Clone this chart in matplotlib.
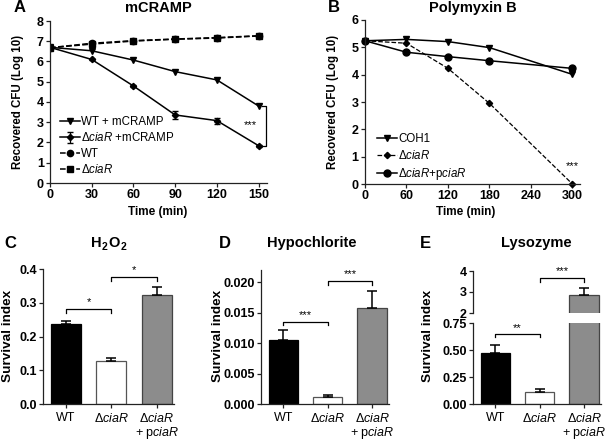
import numpy as np
import matplotlib.pyplot as plt

plt.rcParams['font.family'] = ['Liberation Sans', 'DejaVu Sans']
plt.rcParams['mathtext.fontset'] = 'custom'
plt.rcParams['mathtext.rm'] = 'Liberation Sans'
plt.rcParams['mathtext.it'] = 'Liberation Sans:italic'
plt.rcParams['mathtext.bf'] = 'Liberation Sans:bold'

# --- panel A: mCRAMP killing curves
a_time = [0, 30, 60, 90, 120, 150]
a_wt_mcramp = [6.7, 6.53, 6.07, 5.5, 5.09, 3.8]
a_cia_mcramp = [6.7, 6.1, 4.79, 3.36, 3.08, 1.84]
a_cia_mcramp_err = [0.03, 0.03, 0.05, 0.2, 0.15, 0.04]
a_wt = [6.68, 6.9, 7.03, 7.11, 7.18, 7.27]
a_cia = [6.68, 6.86, 7.01, 7.1, 7.16, 7.26]

# --- panel B: polymyxin B killing curves
b_time = [0, 60, 120, 180, 300]
b_coh1 = [5.24, 5.29, 5.21, 4.99, 4.01]
b_cia = [5.24, 5.15, 4.23, 2.95, 0.0]
b_comp = [5.24, 4.82, 4.66, 4.51, 4.23]

# --- panels C-E: survival index bars
strains = ['WT', 'Δ$\\mathit{ciaR}$', 'Δ$\\mathit{ciaR}$\n+ p$\\mathit{ciaR}$']
bar_colors = ['black', 'white', '#8c8c8c']
bar_edges = ['black', '#555555', '#444444']

h2o2 = [0.237, 0.1265, 0.322]
h2o2_err = [0.010, 0.011, 0.026]
hypo = [0.0105, 0.0011, 0.0157]
hypo_err = [0.0016, 0.0004, 0.0029]
lyso = [0.473, 0.113, 2.84]
lyso_err = [0.071, 0.023, 0.33]

TICK = 9
fig = plt.figure(figsize=(6.08, 4.40), dpi=100)


def px_axes(l, t, r, b):
    return fig.add_axes([l / 608, 1 - b / 440, (r - l) / 608, (b - t) / 440])


def style(ax, xbold=True):
    for s in ['top', 'right']:
        ax.spines[s].set_visible(False)
    for s in ['left', 'bottom']:
        ax.spines[s].set_linewidth(0.9)
        ax.spines[s].set_color('#222222')
    ax.tick_params(direction='out', length=3, width=0.9, labelsize=TICK, pad=1.5,
                   color='#222222')
    for lab in ax.get_yticklabels():
        lab.set_fontweight('bold')
    if xbold:
        for lab in ax.get_xticklabels():
            lab.set_fontweight('bold')


# ---------------- A
axA = px_axes(50, 21, 267, 183)
h1 = axA.errorbar(a_time, a_wt_mcramp, fmt='-v', color='k', ms=5, lw=1.1,
                  label='WT + mCRAMP')
h2 = axA.errorbar(a_time, a_cia_mcramp, yerr=a_cia_mcramp_err, fmt='-D',
                  color='k', ms=3.2, lw=1.1, capsize=2.5, elinewidth=0.9,
                  label='Δ$\\mathit{ciaR}$ +mCRAMP')
h3, = axA.plot(a_time, a_wt, '--o', color='k', ms=4.5, lw=1.1, label='WT')
h4, = axA.plot(a_time, a_cia, '--s', color='k', ms=5, lw=1.1,
               label='Δ$\\mathit{ciaR}$')
axA.set_xlim(0, 156)
axA.set_ylim(0, 8)
axA.set_xticks(a_time)
axA.set_yticks(range(0, 9))
style(axA)
axA.legend(handles=[h1, h2, h3, h4], loc='center left',
           bbox_to_anchor=(0.046, 0.227), frameon=False,
           fontsize=8.3, handlelength=1.7, handletextpad=0.15, borderpad=0,
           borderaxespad=0, labelspacing=0.3)
axA.plot([152.5, 155.5, 155.5, 152.5], [a_wt_mcramp[-1], a_wt_mcramp[-1],
         a_cia_mcramp[-1], a_cia_mcramp[-1]], color='k', lw=0.9, clip_on=False)
axA.text(144, 2.85, '***', ha='center', va='center', fontsize=8)

# ---------------- B
axB = px_axes(365, 20, 580, 184)
axB.plot(b_time, b_coh1, '-v', color='k', ms=5, lw=1.1, label='COH1')
axB.plot(b_time, b_cia, '--D', color='k', ms=3.2, lw=0.9,
         label='Δ$\\mathit{ciaR}$')
axB.plot(b_time, b_comp, '-o', color='k', ms=5, lw=1.1,
         label='Δ$\\mathit{ciaR}$+p$\\mathit{ciaR}$')
axB.set_xlim(0, 311)
axB.set_ylim(0, 6)
axB.set_xticks([0, 60, 120, 180, 240, 300])
axB.set_yticks(range(0, 7))
style(axB)
axB.legend(loc='center left', bbox_to_anchor=(0.056, 0.16), frameon=False,
           fontsize=8.3, handlelength=1.7, handletextpad=0.15, borderpad=0,
           borderaxespad=0, labelspacing=0.35)
axB.text(300, 0.66, '***', ha='center', va='center', fontsize=8)
for ln in axB.lines:
    ln.set_clip_on(False)

# ---------------- bar panels
xpos = np.arange(3)


def bars(ax, vals, errs):
    ax.bar(xpos, vals, width=0.66, color=bar_colors, edgecolor=bar_edges,
           linewidth=0.9)
    ax.errorbar(xpos, vals, yerr=[np.zeros(3), errs], fmt='none', ecolor='k',
                elinewidth=1.1, capsize=3.5, capthick=1.1)
    ax.set_xlim(-0.5, 2.38)
    ax.set_xticks(xpos)
    ax.set_xticklabels(strains, fontsize=9, linespacing=1.0)


def bracket(ax, x0, x1, y, drop, stars):
    ax.plot([x0, x0, x1, x1], [y - drop, y, y, y - drop], color='k', lw=0.9,
            clip_on=False)
    ax.text((x0 + x1) / 2, y + drop * 0.5, stars, ha='center', va='bottom',
            fontsize=8)


# C
axC = px_axes(43, 269, 174, 404)
bars(axC, h2o2, h2o2_err)
axC.set_ylim(0, 0.4)
axC.set_yticks([0.0, 0.1, 0.2, 0.3, 0.4])
axC.set_yticklabels(['0.0', '0.1', '0.2', '0.3', '0.4'])
style(axC, xbold=False)
axC.tick_params(axis='x', pad=3)
bracket(axC, 0, 1, 0.281, 0.011, '*')
bracket(axC, 1, 2, 0.376, 0.011, '*')

# D
axD = px_axes(261, 270, 389, 404)
bars(axD, hypo, hypo_err)
axD.set_ylim(0, 0.022)
axD.set_yticks([0.0, 0.005, 0.010, 0.015, 0.020])
axD.set_yticklabels(['0.000', '0.005', '0.010', '0.015', '0.020'])
style(axD, xbold=False)
axD.tick_params(axis='x', pad=3)
bracket(axD, 0, 1, 0.0135, 0.0006, '***')
bracket(axD, 1, 2, 0.0202, 0.0006, '***')

# E (broken axis)
axE = px_axes(473, 323, 601, 404)
bars(axE, lyso, lyso_err)
axE.set_ylim(0, 0.75)
axE.set_yticks([0.0, 0.25, 0.5, 0.75])
axE.set_yticklabels(['0.00', '0.25', '0.50', '0.75'])
style(axE, xbold=False)
axE.tick_params(axis='x', pad=3)
bracket(axE, 0, 1, 0.646, 0.025, '**')

axE2 = px_axes(473, 271, 601, 313)
bars(axE2, lyso, lyso_err)
axE2.set_ylim(2, 4)
axE2.set_yticks([2, 3, 4])
axE2.set_xticks([])
style(axE2, xbold=False)
axE2.spines['bottom'].set_visible(False)
bracket(axE2, 1, 2, 3.67, 0.18, '***')

# ---------------- text
for lbl, x, y in [('A', 20, 8), ('B', 334, 8), ('C', 10, 243), ('D', 225, 243),
                  ('E', 425, 243)]:
    fig.text(x / 608, 1 - y / 440, lbl, fontsize=12, fontweight='bold',
             ha='center', va='center')
for ttl, x, y in [('mCRAMP', 158, 8), ('Polymyxin B', 473, 8),
                  ('Hypochlorite', 312, 243), ('Lysozyme', 536, 243)]:
    fig.text(x / 608, 1 - y / 440, ttl, fontsize=10.5, fontweight='bold',
             ha='center', va='center')

# H2O2 title: subscripts drawn as smaller, lowered text, advanced by real widths
renderer = fig.canvas.get_renderer()
h2o2_parts = [('H', 0), ('2', 1), ('O', 0), ('2', 1)]
xcur = 91.0
for part, sub in h2o2_parts:
    t = fig.text(xcur / 608, 1 - (243 + 3.5 * sub) / 440, part,
                 fontsize=7.5 if sub else 10.5, fontweight='bold',
                 ha='left', va='center')
    xcur += t.get_window_extent(renderer).width + 0.5

for x, y in [(18, 102), (333, 102)]:
    fig.text(x / 608, 1 - y / 440, 'Recovered CFU (Log 10)', fontsize=8.3,
             fontweight='bold', rotation=90, ha='center', va='center')
for x in [158, 466]:
    fig.text(x / 608, 1 - 212 / 440, 'Time (min)', fontsize=8.5,
             fontweight='bold', ha='center', va='center')
for x in [8, 218, 428]:
    fig.text(x / 608, 1 - 336 / 440, 'Survival index', fontsize=9.7,
             fontweight='bold', rotation=90, ha='center', va='center')

fig.savefig('out.png', dpi=100)
